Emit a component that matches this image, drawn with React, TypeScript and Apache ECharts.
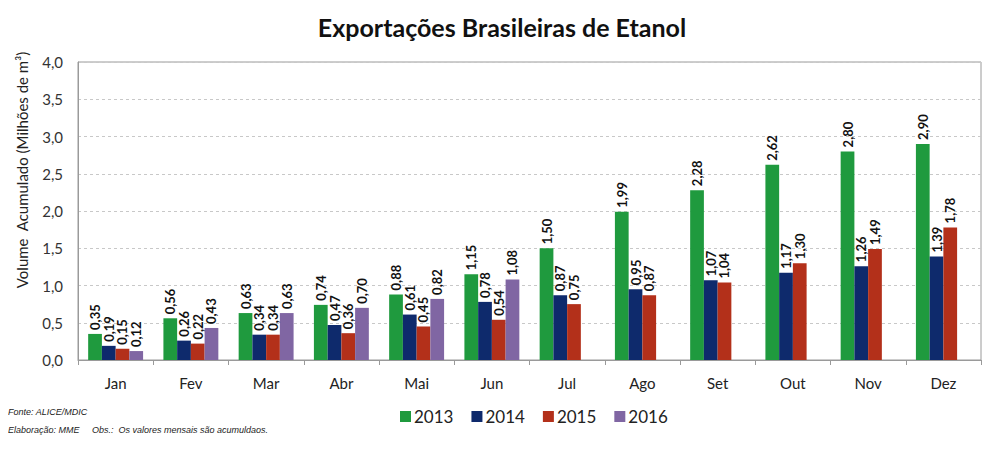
import React, { useEffect, useRef } from "react";
import * as echarts from "echarts";

const months = ["Jan", "Fev", "Mar", "Abr", "Mai", "Jun", "Jul", "Ago", "Set", "Out", "Nov", "Dez"];
const years = ["2013", "2014", "2015", "2016"];
const v2013 = [0.35, 0.56, 0.63, 0.74, 0.88, 1.15, 1.5, 1.99, 2.28, 2.62, 2.8, 2.9];
const v2014 = [0.19, 0.26, 0.34, 0.47, 0.61, 0.78, 0.87, 0.95, 1.07, 1.17, 1.26, 1.39];
const v2015 = [0.15, 0.22, 0.34, 0.36, 0.45, 0.54, 0.75, 0.87, 1.04, 1.3, 1.49, 1.78];
const v2016 = [0.12, 0.43, 0.63, 0.7, 0.82, 1.08, null, null, null, null, null, null];
const colors = ["#1f9a3e", "#0e2a6c", "#b3301a", "#8066a3"];

const FONT = "Lato, 'Open Sans', sans-serif";
const NOTE_FONT = "'Liberation Sans Narrow', 'Liberation Sans', sans-serif";

export default function App() {
  const ref = useRef<HTMLDivElement>(null);
  useEffect(() => {
    if (!ref.current) return;
    const chart = echarts.init(ref.current, null, { renderer: "svg" });
    const seriesData = [v2013, v2014, v2015, v2016];
    const note = (text: string, x: number, y: number) => ({
      type: "text",
      x,
      y,
      style: {
        text,
        fontFamily: NOTE_FONT,
        fontStyle: "italic",
        fontSize: 9,
        fill: "#222",
        verticalAlign: "middle",
      },
    });
    chart.setOption({
      animation: false,
      backgroundColor: "#ffffff",
      textStyle: { fontFamily: FONT },
      title: {
        text: "Exportações Brasileiras de Etanol",
        left: "center",
        top: 9,
        textStyle: { fontFamily: FONT, fontSize: 25, fontWeight: "bold", color: "#111" },
      },
      legend: {
        left: 395,
        top: 403,
        itemWidth: 11,
        itemHeight: 11,
        itemGap: 18,
        icon: "rect",
        textStyle: { fontFamily: FONT, fontSize: 17, color: "#222", padding: [0, 0, 0, -2] },
        data: years,
      },
      grid: {
        left: 78,
        right: 23,
        top: 62,
        bottom: 92,
        show: true,
        borderColor: "#9a9a9a",
        borderWidth: 1,
      },
      xAxis: {
        type: "category",
        data: months,
        axisLine: { lineStyle: { color: "#9a9a9a" } },
        axisTick: { show: true, length: 5, lineStyle: { color: "#9a9a9a" } },
        axisLabel: { fontFamily: FONT, fontSize: 15, color: "#222", margin: 15 },
      },
      yAxis: {
        type: "value",
        min: 0,
        max: 4,
        interval: 0.5,
        axisLine: { show: true, lineStyle: { color: "#9a9a9a" } },
        axisTick: { show: false },
        splitLine: { lineStyle: { color: "#c8c8c8", type: [3, 3] } },
        axisLabel: {
          fontFamily: FONT,
          fontSize: 15,
          color: "#333",
          margin: 15,
          formatter: (v: number) => v.toFixed(1).replace(".", ","),
        },
      },
      graphic: [
        {
          type: "text",
          x: 22,
          y: 170,
          rotation: Math.PI / 2,
          style: {
            text: "Volume  Acumulado (Milhões de m³)",
            fontFamily: FONT,
            fontSize: 15,
            fill: "#222",
            align: "center",
            verticalAlign: "middle",
          },
        },
        note("Fonte: ALICE/MDIC", 8, 412),
        note("Elaboração: MME", 8, 430),
        note("Obs.:  Os valores mensais são acumuldaos.", 92, 430),
      ],
      series: years.map((y, i) => ({
        name: y,
        type: "bar",
        data: seriesData[i],
        barGap: "0%",
        barCategoryGap: "27%",
        itemStyle: { color: colors[i] },
        label: {
          show: true,
          position: "top",
          rotate: 90,
          align: "left",
          verticalAlign: "middle",
          distance: 4,
          fontFamily: FONT,
          fontSize: 13,
          fontWeight: "bold",
          color: "#111",
          formatter: (p: any) => (p.value == null ? "" : Number(p.value).toFixed(2).replace(".", ",")),
        },
      })),
    });
    return () => chart.dispose();
  }, []);
  return <div ref={ref} style={{ width: 1004, height: 452, margin: -8 }} />;
}
